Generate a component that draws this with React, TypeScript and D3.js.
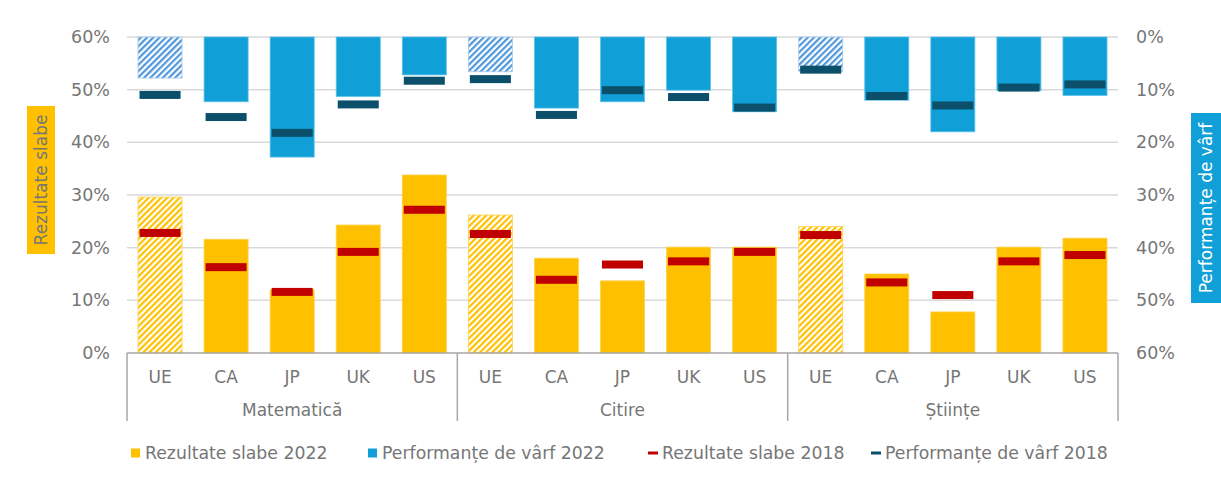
import * as d3 from "d3";

const subjects = ["Matematică", "Citire", "Științe"];
const countries = ["UE", "CA", "JP", "UK", "US"];

// % elevi cu rezultate slabe / performanțe de vârf, pe materie
const low2022 = [
  [29.6, 21.6, 12.0, 24.3, 33.8],
  [26.2, 18.0, 13.7, 20.1, 20.1],
  [24.0, 15.0, 7.8, 20.1, 21.8],
];
const low2018 = [
  [22.8, 16.3, 11.6, 19.2, 27.2],
  [22.6, 13.9, 16.8, 17.4, 19.2],
  [22.4, 13.4, 11.0, 17.4, 18.6],
];
const top2022 = [
  [7.8, 12.3, 22.8, 11.3, 7.2],
  [6.6, 13.5, 12.3, 10.1, 14.2],
  [6.5, 12.0, 18.0, 10.2, 11.1],
];
const top2018 = [
  [11.0, 15.2, 18.2, 12.8, 8.3],
  [8.0, 14.8, 10.1, 11.4, 13.4],
  [6.2, 11.2, 13.0, 9.6, 9.0],
];
const ticks = [0, 10, 20, 30, 40, 50, 60];
const legendItems = [
  { label: "Rezultate slabe 2022", color: "#FFC000", kind: "box" },
  { label: "Performanțe de vârf 2022", color: "#109FD6", kind: "box" },
  { label: "Rezultate slabe 2018", color: "#C00000", kind: "dash" },
  { label: "Performanțe de vârf 2018", color: "#0B4F6B", kind: "dash" },
];

const W = 1221;
const H = 478;
const left = 127;
const right = 1118;
const top = 37;
const bottom = 353;
const font = "'DejaVu Sans', Verdana, sans-serif";
const grey = "#767676";

export default function App() {
  const xg = d3.scaleBand<string>().domain(subjects).range([left, right]);
  const xc = d3
    .scaleBand<string>()
    .domain(countries)
    .range([0, xg.bandwidth()])
    .paddingInner(1 / 3)
    .paddingOuter(1 / 6);
  const yL = d3.scaleLinear([0, 60], [bottom, top]);
  const yR = d3.scaleLinear([0, 60], [top, bottom]);
  const bw = xc.bandwidth();
  const mw = bw - 3;
  const mh = 8;

  const legendX = [131, 368, 648, 871];

  return (
    <svg
      width={W}
      height={H}
      style={{ position: "absolute", left: 0, top: 0, fontFamily: font }}
    >
      <defs>
        <pattern id="hatchY" patternUnits="userSpaceOnUse" width="4.4" height="4.4" patternTransform="rotate(45)">
          <rect width="4.4" height="4.4" fill="#fff" />
          <rect width="2.2" height="4.4" fill="#FFC000" />
        </pattern>
        <pattern id="hatchB" patternUnits="userSpaceOnUse" width="4.4" height="4.4" patternTransform="rotate(45)">
          <rect width="4.4" height="4.4" fill="#fff" />
          <rect width="2.2" height="4.4" fill="#4F97DB" />
        </pattern>
      </defs>

      {/* grila */}
      {ticks.slice(1).map((t) => (
        <line key={t} x1={left} x2={right} y1={yL(t)} y2={yL(t)} stroke="#D9D9D9" strokeWidth={1.5} />
      ))}
      {ticks.map((t) => (
        <text key={"l" + t} x={110} y={yL(t)} dy="0.35em" textAnchor="end" fontSize={17.5} fill={grey}>
          {t}%
        </text>
      ))}
      {ticks.map((t) => (
        <text key={"r" + t} x={1136} y={yR(t)} dy="0.35em" fontSize={17.5} fill={grey}>
          {t}%
        </text>
      ))}

      {/* bare */}
      {subjects.map((s, si) => (
        <g key={s} transform={`translate(${xg(s)},0)`}>
          {countries.map((c, ci) => {
            const x = xc(c)!;
            const cx = x + bw / 2;
            const hatched = c === "UE";
            return (
              <g key={c}>
                <rect
                  x={x}
                  y={yL(low2022[si][ci])}
                  width={bw}
                  height={bottom - yL(low2022[si][ci])}
                  fill={hatched ? "url(#hatchY)" : "#FFC000"}
                  stroke="#FFD24D"
                  strokeWidth={0.8}
                />
                <rect
                  x={x}
                  y={top}
                  width={bw}
                  height={yR(top2022[si][ci]) - top}
                  fill={hatched ? "url(#hatchB)" : "#109FD6"}
                  stroke={hatched ? "#A9CCEE" : "#5EC2EC"}
                  strokeWidth={0.8}
                />
                <rect
                  x={cx - mw / 2}
                  y={yL(low2018[si][ci]) - mh / 2}
                  width={mw}
                  height={mh}
                  fill="#C00000"
                />
                <rect
                  x={cx - mw / 2}
                  y={yR(top2018[si][ci]) - mh / 2}
                  width={mw}
                  height={mh}
                  fill="#0B4F6B"
                />
              </g>
            );
          })}
        </g>
      ))}

      {/* axa categoriilor */}
      <line x1={left} x2={right} y1={bottom} y2={bottom} stroke="#A6A6A6" strokeWidth={1.5} />
      {[...subjects.map((s) => xg(s)!), right].map((x, i) => (
        <line key={i} x1={x} x2={x} y1={bottom} y2={421} stroke="#A6A6A6" strokeWidth={1.5} />
      ))}
      {subjects.map((s) => (
        <g key={s}>
          {countries.map((c) => (
            <text
              key={c}
              x={xg(s)! + xc(c)! + bw / 2}
              y={377}
              dy="0.35em"
              textAnchor="middle"
              fontSize={17}
              fill={grey}
            >
              {c}
            </text>
          ))}
          <text x={xg(s)! + xg.bandwidth() / 2} y={410} dy="0.35em" textAnchor="middle" fontSize={17} fill={grey}>
            {s}
          </text>
        </g>
      ))}

      {/* titluri axe */}
      <rect x={27} y={106} width={28} height={148} fill="#FFC000" />
      <text
        transform={`translate(41,180) rotate(-90)`}
        dy="0.35em"
        textAnchor="middle"
        fontSize={17}
        fill={grey}
      >
        Rezultate slabe
      </text>
      <rect x={1191} y={113} width={30} height={190} fill="#109FD6" />
      <text
        transform={`translate(1206,208) rotate(-90)`}
        dy="0.35em"
        textAnchor="middle"
        fontSize={17}
        fill="#fff"
      >
        Performanțe de vârf
      </text>

      {/* legenda */}
      {legendItems.map((d, i) => (
        <g key={d.label} transform={`translate(${legendX[i]},453)`}>
          {d.kind === "box" ? (
            <rect x={0} y={-4.5} width={9} height={9} fill={d.color} />
          ) : (
            <rect x={0} y={-1.5} width={10} height={3} fill={d.color} />
          )}
          <text x={d.kind === "box" ? 14 : 14} y={0} dy="0.35em" fontSize={17.3} fill={grey}>
            {d.label}
          </text>
        </g>
      ))}
    </svg>
  );
}
